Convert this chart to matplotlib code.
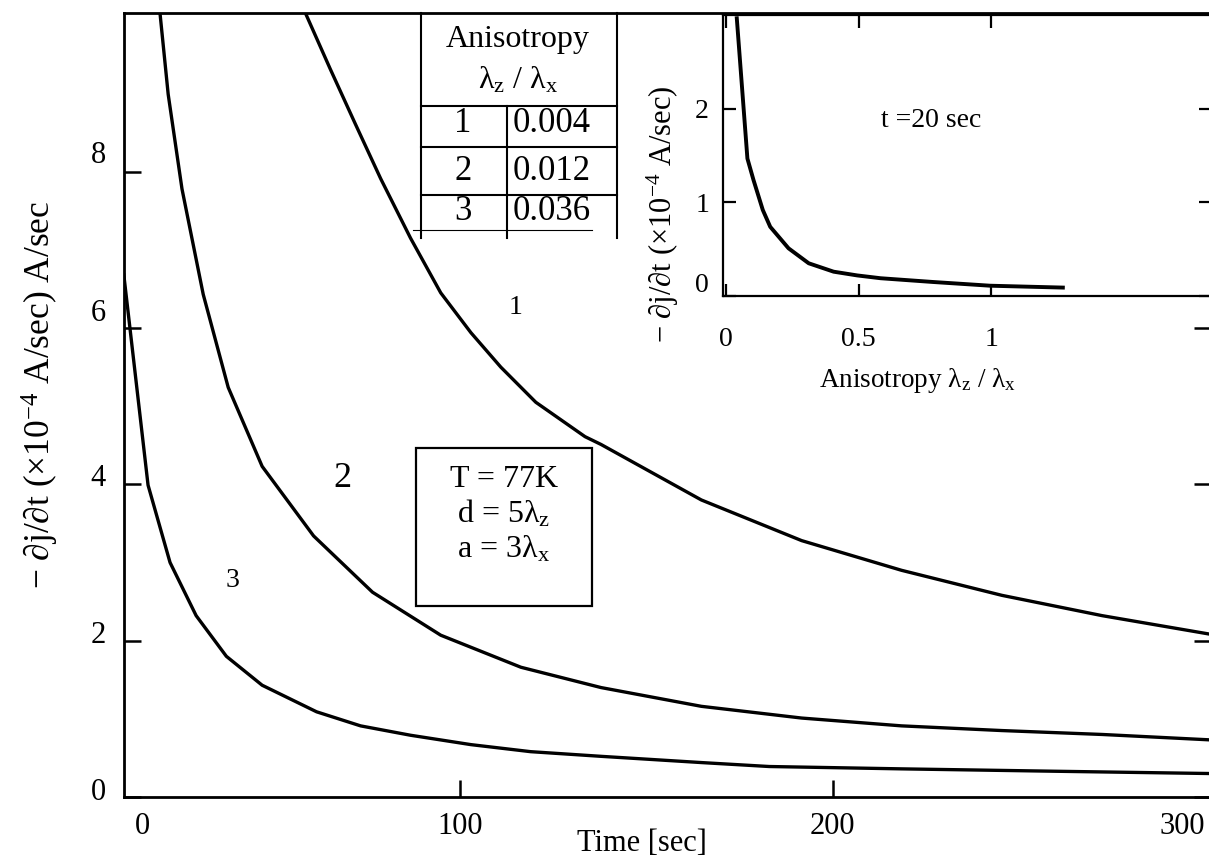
import numpy as np
import matplotlib.pyplot as plt
from matplotlib.lines import Line2D
from matplotlib.patches import Rectangle
from matplotlib.transforms import ScaledTranslation

plt.rcParams['font.family'] = ['Liberation Serif', 'DejaVu Serif']
plt.rcParams['mathtext.fontset'] = 'custom'
plt.rcParams['mathtext.rm'] = 'Liberation Serif'
plt.rcParams['mathtext.it'] = 'Liberation Serif:italic'
plt.rcParams['mathtext.fallback'] = 'stix'

# main plot: decay curves, time in sec
t1 = [58.6, 65.3, 72.0, 78.8, 86.8, 94.9, 103.0, 111.0, 120.4, 133.6, 137.9, 164.8, 191.7, 218.5, 245.4, 272.3, 301.6]
v1 = [10.03, 9.31, 8.61, 7.91, 7.15, 6.45, 5.94, 5.50, 5.05, 4.61, 4.51, 3.80, 3.28, 2.90, 2.58, 2.32, 2.08]
t2 = [19.6, 21.8, 25.5, 31.2, 37.9, 47.0, 60.8, 76.6, 94.9, 116.4, 137.9, 164.8, 191.7, 218.5, 245.4, 272.3, 301.6]
v2 = [10.03, 8.99, 7.78, 6.43, 5.24, 4.23, 3.34, 2.62, 2.07, 1.66, 1.40, 1.16, 1.01, 0.91, 0.85, 0.80, 0.73]
t3 = [9.9, 16.4, 22.3, 29.3, 37.4, 47.0, 61.6, 73.4, 86.8, 103, 119, 138, 165, 183, 218.5, 259, 301.6]
v3 = [6.68, 3.99, 3.00, 2.32, 1.80, 1.43, 1.09, 0.91, 0.79, 0.67, 0.58, 0.52, 0.44, 0.39, 0.36, 0.33, 0.30]

# inset: rate at t = 20 sec vs anisotropy
aniso = [0.041, 0.081, 0.104, 0.139, 0.167, 0.236, 0.312, 0.406, 0.495, 0.583, 0.78, 0.996, 1.27]
rate20 = [2.97, 1.47, 1.24, 0.92, 0.74, 0.51, 0.35, 0.26, 0.22, 0.19, 0.15, 0.11, 0.09]

table_ids = ['1', '2', '3']
table_vals = ['0.004', '0.012', '0.036']

W, H = 1209, 859
fig = plt.figure(figsize=(W / 100, H / 100), dpi=100)


def fx(x):
    return x / W


def fy(y):
    return 1 - y / H


def fline(xs, ys, lw=1.5):
    fig.add_artist(Line2D([fx(x) for x in xs], [fy(y) for y in ys], color='black', lw=lw,
                          transform=fig.transFigure))


ax = fig.add_axes([fx(124), fy(797), (W - 124) / W + 0.002, (797 - 13) / H])
ax.plot(t1, v1, color='black', lw=2.4)
ax.plot(t2, v2, color='black', lw=2.4)
ax.plot(t3, v3, color='black', lw=2.4)
ax.set_xlim(9.95, 301.6)
ax.set_ylim(0.076, 10.03)
for s in ['left', 'bottom', 'top']:
    ax.spines[s].set_linewidth(2.0)
ax.spines['right'].set_visible(False)

# tick marks only at 100 and 200; the 0 and 300 labels sit off the marks
ax.set_xticks([100, 200], ['100', '200'])
ax.set_xticks([14.8, 300], ['0', '300'], minor=True)
ax.set_yticks([0, 2, 4, 6, 8], ['0', '2', '4', '6', '8'])
ax.tick_params(axis='both', which='major', direction='in', length=12, width=1.8, labelsize=22)
ax.tick_params(axis='y', right=True, pad=13)
ax.tick_params(axis='x', pad=11)
ax.tick_params(axis='x', which='minor', length=0, labelsize=22, pad=11)
ax.get_xticklabels(minor=True)[-1].set_ha('right')
for lab, dy in zip(ax.get_yticklabels(), [8, 9, 9, 18, 20]):
    lab.set_transform(lab.get_transform() + ScaledTranslation(0, dy / 100, fig.dpi_scale_trans))

ax.set_xlabel('Time [sec]', fontsize=22)
ax.xaxis.set_label_coords(0.476, -0.059)
ax.xaxis.label.set_va('center')
ax.set_ylabel('− ∂j/∂t (×10$^{-4}$ A/sec) A/sec', fontsize=25.5)
ax.yaxis.set_label_coords(-0.077, 0.513)
ax.yaxis.label.set_va('center')

ax.text(115, 6.26, '1', fontsize=20, ha='center', va='center')
ax.text(68.5, 4.08, '2', fontsize=26, ha='center', va='center')
ax.text(39, 2.77, '3', fontsize=20, ha='center', va='center')

ax.add_patch(Rectangle((88.2, 2.44), 47.3, 2.03, fill=False, lw=1.6, color='black'))
ax.text(111.8, 4.06, 'T = 77K', fontsize=23, ha='center', va='center')
ax.text(111.8, 3.62, 'd = 5λ$_{\\mathrm{z}}$', fontsize=23, ha='center', va='center')
ax.text(111.8, 3.17, 'a = 3λ$_{\\mathrm{x}}$', fontsize=23, ha='center', va='center')

# table
fline([421, 421], [13, 238])
fline([617, 617], [13, 238])
fline([507, 507], [106, 238])
for y in [106, 147, 195]:
    fline([421, 617], [y, y])
fline([413, 592], [230, 230], lw=0.8)
fig.text(fx(518), fy(40), 'Anisotropy', fontsize=23, ha='center', va='center')
fig.text(fx(518), fy(80), 'λ$_{\\mathrm{z}}$ / λ$_{\\mathrm{x}}$', fontsize=23, ha='center', va='center')
for i, yy in enumerate([124, 171, 211]):
    fig.text(fx(463), fy(yy), table_ids[i], fontsize=25, ha='center', va='center')
    fig.text(fx(552), fy(yy), table_vals[i], fontsize=25, ha='center', va='center')

# inset
ax2 = fig.add_axes([fx(723), fy(296), (W - 723) / W + 0.002, (296 - 15) / H])
ax2.plot(aniso, rate20, color='black', lw=2.8)
ax2.set_xlim(-0.011, 1.83)
ax2.set_ylim(0, 3.005)
for s in ['left', 'bottom', 'top']:
    ax2.spines[s].set_linewidth(1.6)
ax2.spines['right'].set_visible(False)
ax2.set_xticks([0, 0.5, 1], ['0', '0.5', '1'])
ax2.set_yticks([0, 1, 2], ['0', '1', '2'])
ax2.tick_params(axis='both', direction='in', length=9, width=1.6, labelsize=20, top=True, right=True)
ax2.tick_params(axis='x', pad=22)
ax2.tick_params(axis='y', pad=10)
ax2.get_yticklabels()[0].set_transform(ax2.get_yticklabels()[0].get_transform()
                                       + ScaledTranslation(0, 0.13, fig.dpi_scale_trans))
ax2.set_xlabel('Anisotropy λ$_{\\mathrm{z}}$ / λ$_{\\mathrm{x}}$', fontsize=19.5)
ax2.xaxis.set_label_coords(0.399, -0.30)
ax2.xaxis.label.set_va('center')
ax2.set_ylabel('− ∂j/∂t (×10$^{-4}$ A/sec)', fontsize=22)
ax2.yaxis.set_label_coords(-0.123, 0.292)
ax2.yaxis.label.set_va('center')
ax2.text(0.426, 0.626, 't =20 sec', transform=ax2.transAxes, fontsize=20, ha='center', va='center')

fig.savefig('out.png', dpi=100)
